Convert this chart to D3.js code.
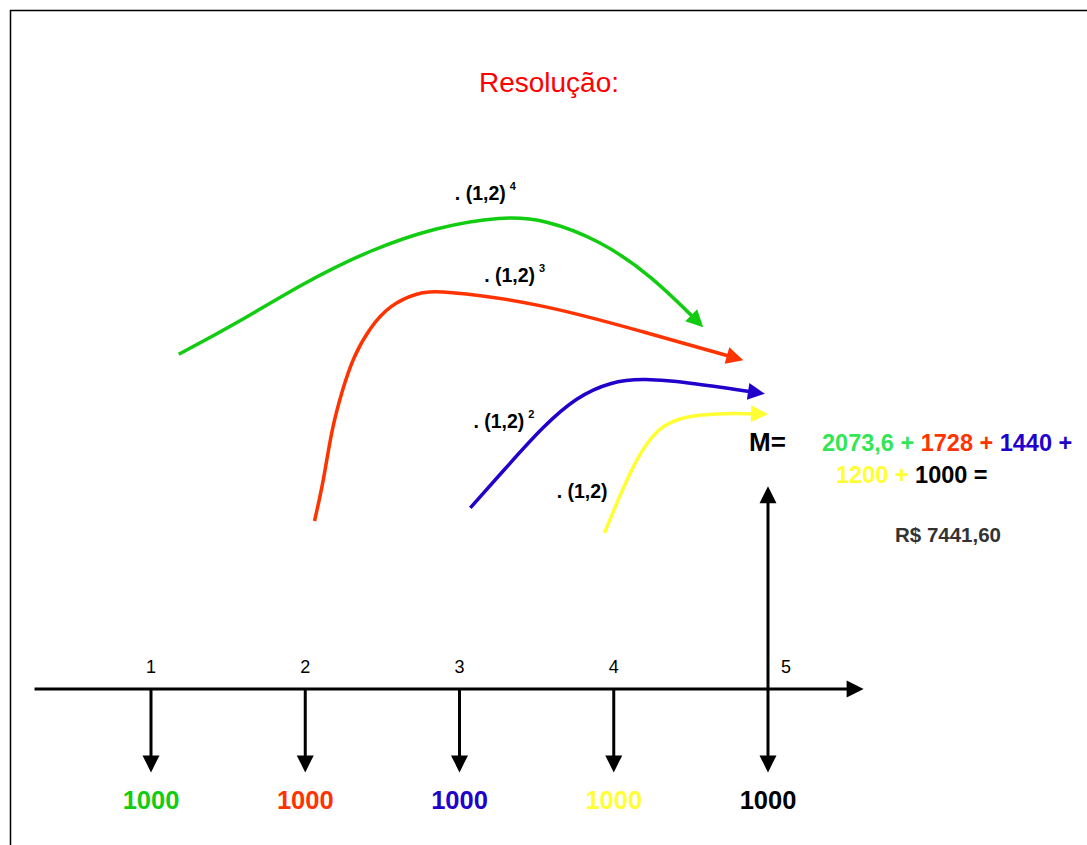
<!DOCTYPE html>
<html><head><meta charset="utf-8">
<script src="https://cdn.jsdelivr.net/npm/d3@7"></script>
<style>html,body{margin:0;padding:0;background:#fff;}svg{display:block;}</style>
</head><body>
<svg id="c" width="1087" height="845"></svg>
<script>
// ---- data ----
const periods = [1, 2, 3, 4, 5];
const periodLabels = ["1", "2", "3", "4", "5"];
const payments = [1000, 1000, 1000, 1000, 1000];
const paymentColors = ["#11cc11", "#ff3300", "#2200cc", "#ffff33", "#000000"];
const exponents = [4, 3, 2, 1];
const futureValues = [2073.6, 1728, 1440, 1200, 1000];
const eqColors = ["#33e655", "#ff3300", "#2200cc", "#ffff33", "#000000"];
const total = 7441.60;
const curveColors = ["#11cc11", "#ff3300", "#2200cc", "#ffff33"];
// curve guide points: [period, height]
const curveGreen  = [[1.18,5.58],[1.56,6.10],[1.99,6.77],[2.42,7.32],[2.85,7.70],[3.28,7.88],[3.55,7.83],[3.91,7.48],[4.24,6.90],[4.58,6.03]];
const curveRed    = [[2.06,2.80],[2.12,3.48],[2.17,4.32],[2.24,4.98],[2.31,5.53],[2.42,6.03],[2.55,6.40],[2.72,6.60],[2.87,6.65],[3.52,6.43],[4.17,5.97],[4.84,5.48]];
const curveBlue   = [[3.07,3.02],[3.33,3.77],[3.54,4.37],[3.76,4.87],[3.98,5.12],[4.19,5.18],[4.51,5.10],[4.98,4.92]];
const curveYellow = [[3.94,2.60],[4.04,3.23],[4.15,3.85],[4.28,4.35],[4.45,4.55],[4.71,4.60],[5.00,4.58]];
const labelPos = [[2.97,8.15],[3.16,6.78],[3.09,4.35],[3.63,3.18]];

// ---- setup ----
const FONT = "Arial, 'Liberation Sans', sans-serif";
const svg = d3.select("#c");
const x = d3.scaleLinear().domain([1, 5]).range([151, 768]);
const y = d3.scaleLinear().domain([0, 10]).range([689, 89]);
const loc = d3.formatLocale({decimal: ",", thousands: ".", grouping: [3], currency: ["R$ ", ""]});
const fmtV = loc.format("~f");
const fmtT = loc.format("$.2f");

svg.append("rect").attr("x", 10.5).attr("y", 10.5).attr("width", 1100).attr("height", 900)
  .attr("fill", "none").attr("stroke", "#000").attr("stroke-width", 1.5);

svg.append("text").attr("x", 549).attr("y", 92).attr("text-anchor", "middle")
  .attr("font-family", FONT).attr("font-size", 28).attr("fill", "#ff0000").text("Resolução:");

function head(g, tip, back, color, len = 17, half = 8.5) {
  const dx = tip[0] - back[0], dy = tip[1] - back[1];
  const n = Math.hypot(dx, dy) || 1;
  const ux = dx / n, uy = dy / n;
  const bx = tip[0] - ux * len, by = tip[1] - uy * len;
  const px = -uy * half, py = ux * half;
  g.append("path")
    .attr("d", `M${tip[0]},${tip[1]}L${bx + px},${by + py}L${bx - px},${by - py}Z`)
    .attr("fill", color);
}
function straightArrow(g, x1, y1, x2, y2, color) {
  const n = Math.hypot(x2 - x1, y2 - y1);
  const ux = (x2 - x1) / n, uy = (y2 - y1) / n;
  g.append("line").attr("x1", x1).attr("y1", y1)
    .attr("x2", x2 - ux * 10).attr("y2", y2 - uy * 10)
    .attr("stroke", color).attr("stroke-width", 3);
  head(g, [x2, y2], [x1, y1], color);
}

const g = svg.append("g");

// timeline
straightArrow(g, x(0.245), y(0), x(5.62), y(0), "#000");
// payments (down arrows)
periods.forEach((p, i) => {
  straightArrow(g, x(p), y(0), x(p), y(-1.39), "#000");
});
// up arrow at final period
straightArrow(g, x(5), y(0), x(5), y(3.38), "#000");

// period labels
g.selectAll("text.per").data(periods).enter().append("text")
  .attr("class", "per")
  .attr("x", (d, i) => x(d) + (i === periods.length - 1 ? 18 : 0))
  .attr("y", y(0.27)).attr("text-anchor", "middle")
  .attr("font-family", FONT).attr("font-size", 18).attr("fill", "#000")
  .text((d, i) => periodLabels[i]);

// payment labels
g.selectAll("text.pay").data(payments).enter().append("text")
  .attr("class", "pay")
  .attr("x", (d, i) => x(periods[i]))
  .attr("y", y(-2.0)).attr("text-anchor", "middle")
  .attr("font-family", FONT).attr("font-size", 25.5).attr("font-weight", "bold")
  .attr("fill", (d, i) => paymentColors[i])
  .text(d => d);

// compounding curves
const line = d3.line().x(d => x(d[0])).y(d => y(d[1])).curve(d3.curveBasis);
[curveGreen, curveRed, curveBlue, curveYellow].forEach((pts, i) => {
  const path = g.append("path").attr("d", line(pts)).attr("fill", "none")
    .attr("stroke", curveColors[i]).attr("stroke-width", 3.5);
  const L = path.node().getTotalLength();
  path.attr("stroke-dasharray", `${L - 10} ${L + 20}`);
  const t = path.node().getPointAtLength(L), b = path.node().getPointAtLength(L - 17);
  head(g, [t.x, t.y], [b.x, b.y], curveColors[i]);
});

// compounding labels
labelPos.forEach((lp, i) => {
  const t = g.append("text").attr("x", x(lp[0])).attr("y", y(lp[1]))
    .attr("font-family", FONT).attr("font-size", 19.5).attr("font-weight", "bold")
    .attr("fill", "#000").text(". (1,2)");
  if (exponents[i] > 1) {
    t.append("tspan").attr("dx", 4).attr("dy", -10).attr("font-size", 11).text(exponents[i]);
  }
});

// M= equation
g.append("text").attr("x", 749).attr("y", 451)
  .attr("font-family", FONT).attr("font-size", 26).attr("font-weight", "bold")
  .attr("fill", "#000").text("M=");

const eq1 = g.append("text").attr("x", 822).attr("y", 451)
  .attr("font-family", FONT).attr("font-size", 23.5).attr("font-weight", "bold").attr("xml:space", "preserve");
[0, 1, 2].forEach(i => {
  eq1.append("tspan").attr("fill", eqColors[i]).text((i ? " " : "") + fmtV(futureValues[i]) + " +");
});
const eq2 = g.append("text").attr("x", 836).attr("y", 483)
  .attr("font-family", FONT).attr("font-size", 23.5).attr("font-weight", "bold").attr("xml:space", "preserve");
eq2.append("tspan").attr("fill", eqColors[3]).text(fmtV(futureValues[3]) + " +");
eq2.append("tspan").attr("fill", eqColors[4]).text(" " + fmtV(futureValues[4]) + " =");

g.append("text").attr("x", 895).attr("y", 542)
  .attr("font-family", FONT).attr("font-size", 20.5).attr("font-weight", "bold")
  .attr("fill", "#333").text(fmtT(total));
</script>
</body></html>
